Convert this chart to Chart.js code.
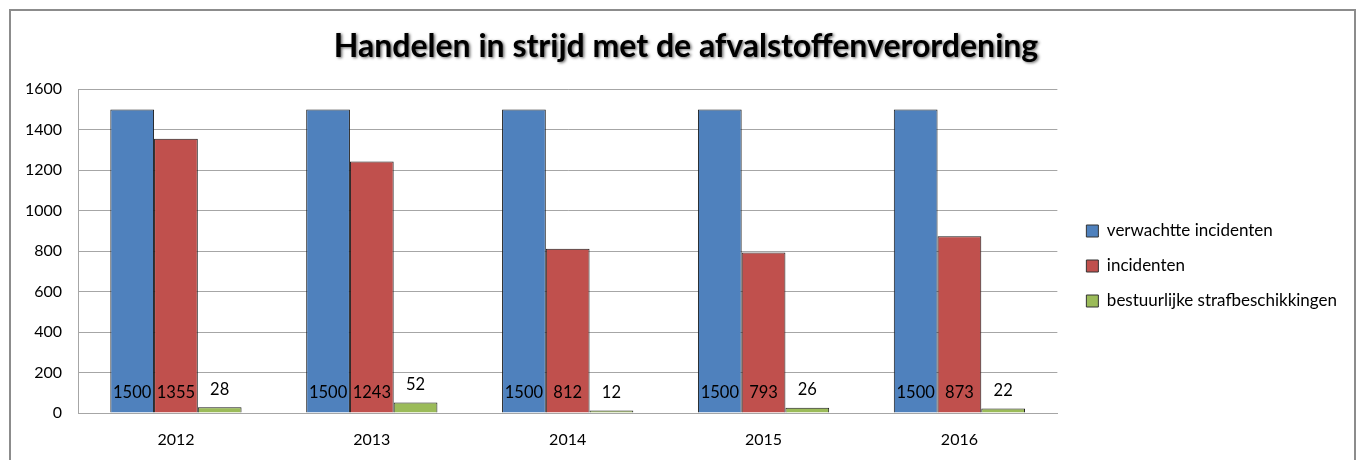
<!DOCTYPE html>
<html>
<head>
<meta charset="utf-8">
<script src="https://cdn.jsdelivr.net/npm/chart.js@4.4.0/dist/chart.umd.min.js"></script>
<style>
  html, body { margin: 0; padding: 0; background: #fff; }
  #wrap { position: relative; width: 1362px; height: 460px; overflow: hidden; }
  #frame { position: absolute; left: 9px; top: 9px; width: 1347px; height: 520px; border: 2px solid #8c8c8c; box-sizing: border-box; }
  canvas { position: absolute; left: 0; top: 0; }
</style>
</head>
<body>
<div id="wrap">
  <div id="frame"></div>
  <canvas id="c" width="1362" height="460"></canvas>
</div>
<script>
const titleText = "Handelen in strijd met de afvalstoffenverordening";
const categories = ["2012", "2013", "2014", "2015", "2016"];
const seriesNames = ["verwachtte incidenten", "incidenten", "bestuurlijke strafbeschikkingen"];
const verwachtteIncidenten = [1500, 1500, 1500, 1500, 1500];
const incidenten = [1355, 1243, 812, 793, 873];
const strafbeschikkingen = [28, 52, 12, 26, 22];
const yTicks = [0, 200, 400, 600, 800, 1000, 1200, 1400, 1600];
const colors = ["#4F81BD", "#C0504D", "#9BBB59"];

const FONT = "Lato, 'Open Sans', sans-serif";

const titlePlugin = {
  id: 'shadowTitle',
  afterDraw(chart) {
    const tb = chart.titleBlock;
    const ctx = chart.ctx;
    ctx.save();
    ctx.font = "bold 32px " + FONT;
    ctx.textAlign = 'center';
    ctx.textBaseline = 'middle';
    ctx.shadowColor = 'rgba(0,0,0,0.6)';
    ctx.shadowBlur = 3;
    ctx.shadowOffsetX = 1.5;
    ctx.shadowOffsetY = 1.5;
    ctx.fillStyle = '#000';
    const cx = (tb.left + tb.right) / 2 + 18;
    const cy = tb.top + tb.options.padding.top + tb.height / 2 - (tb.options.padding.top + tb.options.padding.bottom) / 2;
    ctx.fillText(titleText, cx, cy);
    ctx.restore();
  }
};

const legendShift = {
  id: 'legendShift',
  afterLayout(chart) {
    const lg = chart.legend;
    if (!lg) return;
    lg.left += 11; lg.right += 11;
    lg.top += 42; lg.bottom += 42;
  }
};

const labelPlugin = {
  id: 'valueLabels',
  afterDatasetsDraw(chart) {
    const ctx = chart.ctx;
    const y0 = chart.scales.y.getPixelForValue(0);
    ctx.save();
    ctx.font = "16.5px " + FONT;
    ctx.fillStyle = '#000';
    ctx.textAlign = 'center';
    ctx.textBaseline = 'middle';
    chart.data.datasets.forEach((ds, di) => {
      const meta = chart.getDatasetMeta(di);
      meta.data.forEach((el, i) => {
        const v = ds.data[i];
        const y = di < 2 ? y0 - 20 : el.y - 18;
        ctx.fillText(String(v), el.x, y);
      });
    });
    ctx.restore();
  }
};

new Chart(document.getElementById('c'), {
  type: 'bar',
  data: {
    labels: categories,
    datasets: [
      { label: seriesNames[0], data: verwachtteIncidenten, backgroundColor: colors[0] },
      { label: seriesNames[1], data: incidenten, backgroundColor: colors[1] },
      { label: seriesNames[2], data: strafbeschikkingen, backgroundColor: colors[2] }
    ].map(d => Object.assign(d, { borderColor: '#1a1a1a', borderWidth: 1, categoryPercentage: 0.67, barPercentage: 1.0 }))
  },
  options: {
    responsive: false,
    animation: false,
    devicePixelRatio: 1,
    layout: { padding: { left: 0, right: 26, top: 0, bottom: 12 } },
    plugins: {
      title: {
        display: true,
        text: titleText,
        color: 'rgba(0,0,0,0)',
        font: { family: FONT, size: 26, weight: 'bold', lineHeight: 1.2 },
        padding: { top: 31, bottom: 27 }
      },
      legend: {
        display: true,
        position: 'right',
        align: 'center',
        labels: {
          boxWidth: 12,
          boxHeight: 12,
          padding: 18,
          color: '#000',
          font: { family: FONT, size: 17 },
          generateLabels(chart) {
            return chart.data.datasets.map((ds, i) => ({
              text: ds.label,
              fillStyle: ds.backgroundColor,
              strokeStyle: '#333',
              lineWidth: 1,
              datasetIndex: i,
              hidden: false
            }));
          }
        }
      },
      tooltip: { enabled: false }
    },
    scales: {
      x: {
        afterFit(scale) { scale.height = 35; },
        grid: { display: false, drawTicks: false },
        border: { display: true, color: '#a6a6a6', width: 1 },
        ticks: { color: '#000', font: { family: FONT, size: 16 }, padding: 17 }
      },
      y: {
        min: 0,
        max: 1600,
        afterBuildTicks(scale) { scale.ticks = yTicks.map(v => ({ value: v })); },
        afterFit(scale) { scale.width = 78; },
        grid: { color: '#a6a6a6', lineWidth: 1, drawTicks: false },
        border: { display: true, color: '#a6a6a6', width: 1 },
        ticks: { color: '#000', font: { family: FONT, size: 16 }, padding: 16, callback: v => String(v) }
      }
    }
  },
  plugins: [titlePlugin, legendShift, labelPlugin]
});
</script>
</body>
</html>
